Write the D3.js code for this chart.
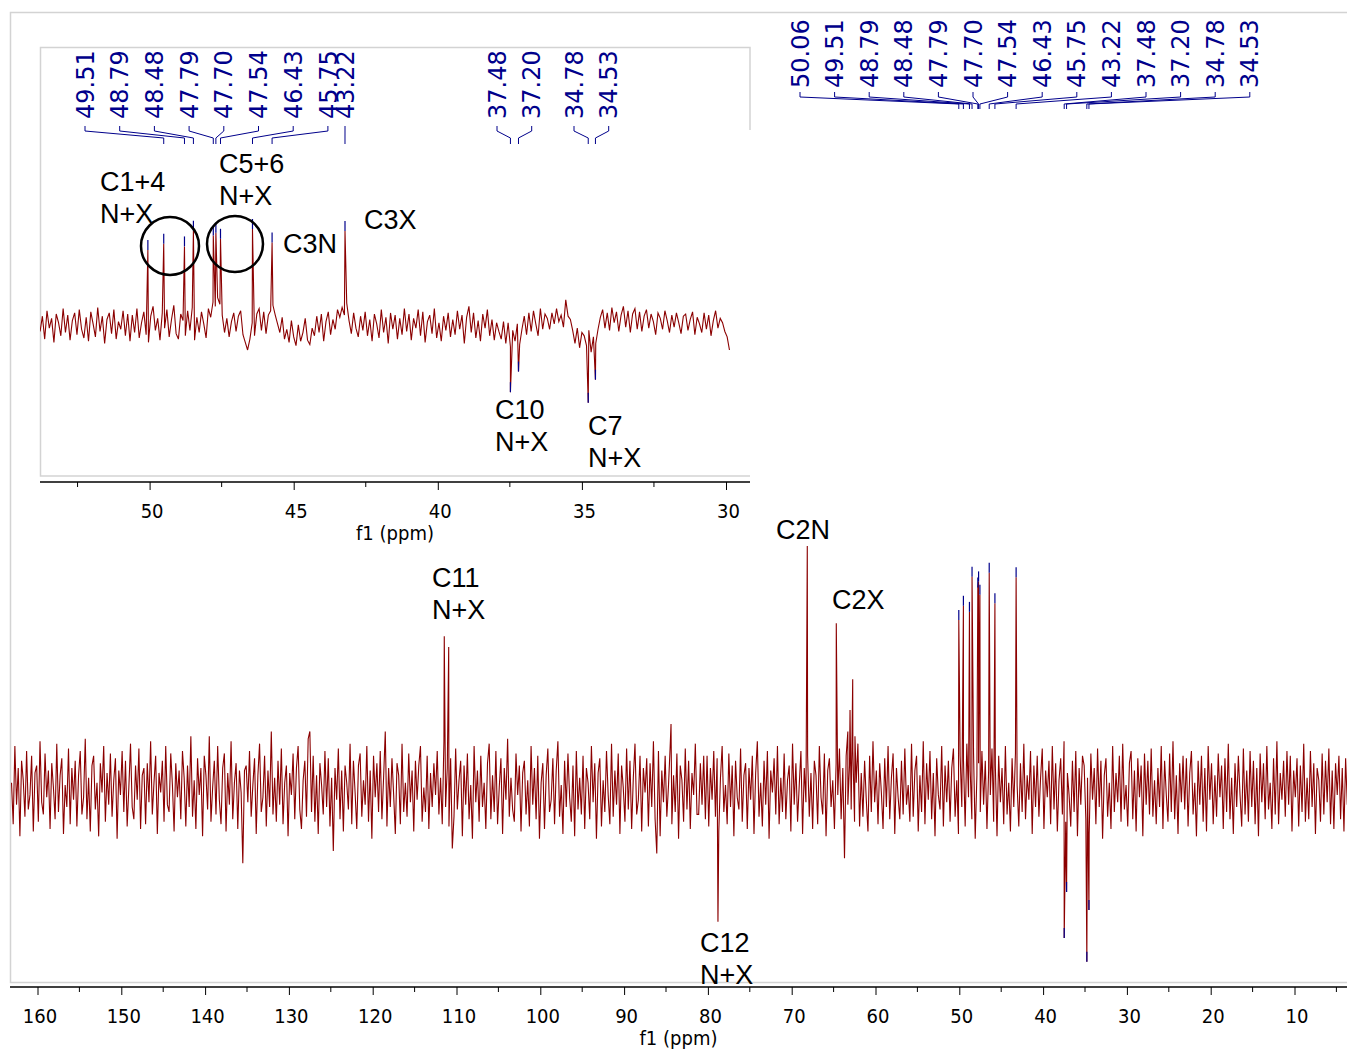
<!DOCTYPE html>
<html><head><meta charset="utf-8">
<script src="https://cdn.jsdelivr.net/npm/d3@7"></script>
<style>body{margin:0;background:#fff}svg{display:block}</style>
</head><body>
<script>
// ---------- DATA ----------
const mainNoiseStart = 163.1, mainNoiseStep = 0.2;
const mainNoise = [
3,-14,18,-6,9,-19,12,4,-11,16,-8,-2,14,-17,7,10,-13,20,-5,-10,
15,-3,8,-16,11,1,-12,19,-9,6,13,-18,2,-7,17,-14,9,-4,12,-15,
6,16,-10,-3,21,-12,5,-17,10,14,-8,3,-19,11,-1,18,-13,7,-6,15,
-11,4,13,-20,8,-2,16,-9,12,-15,1,19,-7,-12,10,-4,17,-16,6,9,
-14,11,-5,20,-10,3,14,-18,7,-1,12,-13,18,-6,-9,15,2,-17,11,-3,
8,-12,16,5,-15,10,-7,22,-11,4,-16,13,-2,9,-19,14,6,-8,22,-13,
1,12,-10,18,-4,-14,9,15,-17,7,-6,20,-12,3,11,-16,8,-1,-30,8,
10,-5,16,-11,2,13,-18,6,19,-9,-3,14,-15,8,-7,24,-10,5,-13,12,
-6,17,-14,3,10,-19,7,-2,15,-12,9,18,-8,-16,4,12,-11,21,24,-9,
14,-13,6,-18,11,2,-10,16,-7,13,-15,5,-25,9,-4,17,-12,8,-17,10,
3,-8,19,-14,12,-1,-16,10,15,-11,4,-6,18,-13,8,-20,14,-3,11,-9,
16,-12,5,24,-15,9,-7,13,-2,-18,11,6,-14,19,-9,3,-11,15,-5,8,
-17,12,-4,10,18,-13,1,-9,14,-16,7,-7,11,-2,16,-10,5,-14,20,-7,
9,-15,13,-24,-11,17,-8,4,12,-19,10,-6,15,-12,2,-20,18,-5,8,-13,
14,-7,3,-16,11,19,-12,6,-9,16,-14,1,13,-18,9,-4,21,-11,5,-8,
-13,15,-2,10,-17,7,12,-10,4,-15,18,-6,9,-12,14,-20,3,11,-16,6,
17,-9,-4,13,-14,8,20,-11,2,-18,12,-7,15,-3,-13,10,-19,16,-8,5,
-10,14,-16,9,3,-12,18,-5,11,-20,7,13,-15,4,-9,16,-2,-14,19,-11,
8,-6,15,-18,10,1,-13,17,-8,12,-16,5,19,-10,-4,14,-17,9,-1,13,
-15,11,-7,20,-12,-26,16,-19,8,-5,14,-11,2,18,-14,6,-9,15,-20,10,
4,-13,17,-8,12,-16,7,-2,19,-10,-10,11,-6,14,-12,14,-15,9,-4,16,
-11,13,-17,5,18,-9,2,-14,15,-7,10,-19,12,-3,-8,17,-13,6,11,-16,
9,-4,14,-18,7,20,-11,3,-15,12,-6,16,-20,8,-1,13,-10,18,-14,5,
-9,15,-12,4,10,-17,19,-6,11,-13,2,16,-18,9,-5,14,-11,7,-16,12,
6,-14,18,-3,-10,15,-19,8,13,-7,4,-16,11,-2,17,-12,9,-28,14,-6,
10,-8,16,-13,3,19,-15,7,-11,12,-4,-17,14,-9,20,-5,8,-14,11,-1,
-16,13,-7,18,-12,5,15,-18,9,-3,-12,12,-10,17,-6,2,-13,19,-11,8,
14,-17,6,-9,20,-14,11,-4,16,-12,7,-19,13,-2,-8,18,-15,10,-5,12,
-13,9,17,-11,4,-18,14,-7,12,-15,19,-3,8,-12,15,-20,6,11,-9,16,
-6,12,-16,8,-2,17,-13,10,-19,14,-5,9,-14,18,-10,3,-17,13,-7,15,
2,-15,11,-9,19,-12,6,-4,16,-18,10,-7,14,-11,5,17,-16,8,-3,12,
-14,18,-8,11,-17,4,13,-10,20,-13,7,-2,-15,12,-9,16,-19,9,-6,14,
10,-12,5,-18,15,-4,9,-14,17,-7,12,-20,6,13,-11,3,-16,18,-9,7,
-5,14,-13,19,-8,2,-15,11,16,-12,8,-17,13,-3,10,-19,15,-6,12,-10,
17,-11,4,-14,9,-7,18,-16,12,-2,-13,15,-9,20,-12,6,-18,11,-5,14,
-8,13,-15,7,16,-10,3,-19,12,-6,14,-13,9,-17,18,-4,11,-14,6,-11,
15,-3,10,-16,13,-9,19,-12,5,-18,11,-7,14,-2,-15,17,-10,8,-13,16,
-7,12,-14,9,-19,15,-5,11,-12,18,-8,3,-16,13,-10,20,-14,7,-4,12,
-11,16,-6,14,-17,8,-3,13,-15,10,-9,19,-13,5,-12,16,-7,11,-18,9,
4,-13,15,-10,12,-5,17,-14,8,-16,11,-2,14,-12,9,-17,13,-6,10,-15
];
const insetNoiseStart = 53.8, insetNoiseStep = 0.08;
const insetNoise = [
-5,9,-12,14,-2,7,-15,11,3,-9,16,-6,10,-13,5,12,-8,15,-3,-11,
8,-14,13,2,-10,17,-5,9,-16,6,12,-7,15,-12,4,-3,14,-9,11,-14,
10,-6,16,-11,3,13,-8,-15,9,18,-4,7,-13,12,-2,15,-10,6,19,-7,
-12,11,5,-9,14,-4,17,-13,8,-6,13,2,-11,16,8,22,18,26,20,10,
-6,7,-10,4,12,-5,9,14,-8,-15,-22,-12,3,-9,11,16,-4,13,-7,10,
14,19,10,2,-6,8,-12,-3,-15,5,-10,-18,1,-14,-6,7,-13,-17,-2,-9,
9,-6,11,-14,4,13,-8,6,-3,15,8,17,10,21,5,-7,12,-2,-10,9,
-4,13,-9,6,-14,11,2,-11,15,-6,8,-16,12,-3,10,-12,7,-8,16,-5,
11,-13,7,-2,15,-9,13,-15,4,10,-7,16,-11,3,-14,9,-4,12,-10,6,
-8,14,-3,10,-16,8,18,-6,12,-11,5,-14,11,-2,15,-9,6,-13,3,-5,
-12,4,-16,3,-19,-4,-14,2,-17,-3,9,-8,12,-5,14,2,-9,16,-3,11,
7,-3,12,2,16,4,10,-1,24,9,6,-4,-16,-2,-20,-6,-9,-18,-4,-24,
-10,-16,-3,8,15,-2,12,-4,17,3,13,-5,10,18,-1,14,-6,11,16,-3,
13,-5,9,15,-2,11,4,-8,12,7,-3,14,5,-6,10,-1,12,3,-7,9,
11,-4,6,13,-8,8,2,-6,12,-3,10,-9,5,14,-2,7,3,-5,-10,-22
];
// labelled peaks (ppm, intensity; C2N = 100)
const peakPpm = [50.06,49.51,48.79,48.48,47.79,47.70,47.54,46.43,45.75,43.22,37.48,37.20,34.78,34.53];
const peakInt = [69.7,75.5,73,87.4,83,85.5,80,89,76.5,87.2,-60.7,-41.8,-70.4,-49.2];
const peakLabels = ["50.06","49.51","48.79","48.48","47.79","47.70","47.54","46.43","45.75","43.22","37.48","37.20","34.78","34.53"];
// other peaks (no marks)
const otherPpm = [111.46,110.93,84.4,78.8,68.14,64.68,63.3,63.04,62.72,62.45];
const otherInt = [63,58.6,27,-54,100,68.3,24,32.8,45.4,22];
const mainTicks = [160,150,140,130,120,110,100,90,80,70,60,50,40,30,20,10];
const mainMinor = [155,145,135,125,115,105,95,85,75,65,55,45,35,25,15,5];
const insetTicks = [50,45,40,35,30];
const insetMinor = [52.5,47.5,42.5,37.5,32.5];
const mainNotes = [["C11","N+X"],["C2N"],["C2X"],["C12","N+X"]];
const insetNotes = [["C1+4","N+X"],["C5+6","N+X"],["C3N"],["C3X"],["C10","N+X"],["C7","N+X"]];
const axisTitle = "f1 (ppm)";

// ---------- LAYOUT ----------
const W = 1347, H = 1052;
const RED = "#8b0000", NAVY = "#00008b", GRAY = "#d3d3d3";
const svg = d3.select("body").append("svg").attr("width", W).attr("height", H);

function series(start, step, noise, lo, hi, withOther) {
  const pts = noise.map((v, i) => ({ppm: start - i * step, v}));
  peakPpm.forEach((p, i) => { if (p <= hi && p >= lo) pts.push({ppm: p, v: peakInt[i]}); });
  if (withOther) otherPpm.forEach((p, i) => pts.push({ppm: p, v: otherInt[i]}));
  return pts.sort((a, b) => b.ppm - a.ppm);
}

const defs = svg.append("defs");
defs.append("clipPath").attr("id", "clipMain").append("rect").attr("x", 10).attr("y", 0).attr("width", W - 10).attr("height", H);
defs.append("clipPath").attr("id", "clipInset").append("rect").attr("x", 40).attr("y", 0).attr("width", 710).attr("height", H);

// ---- main frame ----
svg.append("path").attr("d", `M${W},12.5H10.5V982.5H${W}`).attr("fill", "none").attr("stroke", GRAY).attr("stroke-width", 1.5);

// ---- main plot ----
const xM = d3.scaleLinear().domain([160, 10]).range([37.5, 1294.5]);
const yM = d3.scaleLinear().domain([0, 100]).range([790, 546]);
const mainData = series(mainNoiseStart, mainNoiseStep, mainNoise, -1e9, 1e9, true);
svg.append("path").datum(mainData).attr("clip-path", "url(#clipMain)")
  .attr("d", d3.line().x(d => xM(d.ppm)).y(d => yM(d.v)))
  .attr("fill", "none").attr("stroke", RED).attr("stroke-width", 1.1);

function marks(g, x, y) {
  g.selectAll(null).data(peakPpm).enter().append("line")
    .attr("x1", d => x(d)).attr("x2", d => x(d))
    .attr("y1", (d, i) => y(peakInt[i]) - 10).attr("y2", (d, i) => y(peakInt[i]))
    .attr("stroke", NAVY).attr("stroke-width", 1.2);
}
marks(svg.append("g"), xM, yM);

function axis(x, yAxis, x0, x1, ticks, minor, majorLen, minorLen) {
  const g = svg.append("g").attr("transform", `translate(0,${yAxis})`);
  g.append("line").attr("x1", x0).attr("x2", x1).attr("stroke", "#000").attr("stroke-width", 1.5);
  const ax = d3.axisBottom(x).tickValues(ticks).tickSize(majorLen).tickSizeOuter(0).tickPadding(14).tickFormat(d3.format("d"));
  const ga = g.append("g").call(ax);
  ga.select(".domain").remove();
  ga.selectAll(".tick line").attr("stroke", "#000").attr("stroke-width", 1);
  ga.selectAll(".tick text").attr("font-family", "'DejaVu Sans Condensed','DejaVu Sans',sans-serif")
    .attr("font-stretch", "condensed").attr("font-size", 20).attr("fill", "#000").attr("dx", 2);
  g.selectAll(null).data(minor).enter().append("line")
    .attr("x1", d => x(d)).attr("x2", d => x(d)).attr("y1", 0).attr("y2", minorLen)
    .attr("stroke", "#000").attr("stroke-width", 1);
  g.append("text").attr("x", (x0 + x1) / 2).attr("y", 58).attr("text-anchor", "middle")
    .attr("font-family", "'DejaVu Sans Condensed','DejaVu Sans',sans-serif").attr("font-stretch", "condensed")
    .attr("font-size", 20).text(axisTitle);
}
axis(xM, 987, 10, W, mainTicks, mainMinor, 8, 5);

// top multiplet labels
function labelsAndBrackets(groups, xs, yText, yT1, yT2, yD, yB) {
  const g = svg.append("g");
  groups.forEach(gr => {
    gr.idx.forEach((pi, k) => {
      const lx = gr.x0 + k * gr.pitch;
      const px = xs(peakPpm[pi]);
      g.append("text").attr("transform", `translate(${lx},${yText}) rotate(-90)`)
        .attr("dy", "0.36em").attr("font-family", "'DejaVu Sans',Verdana,sans-serif")
        .attr("font-size", 24).attr("fill", NAVY).text(peakLabels[pi]);
      g.append("path").attr("d", `M${lx},${yT1}V${yT2}L${px},${yD}V${yB}`)
        .attr("fill", "none").attr("stroke", NAVY).attr("stroke-width", 1);
    });
  });
}
labelsAndBrackets([{idx: d3.range(0, 14), x0: 800, pitch: 34.6}], xM, 88, 92, 97, 104, 109);

function notes(list, pos) {
  list.forEach((lines, i) => {
    const t = svg.append("text").attr("font-family", "'Liberation Sans',Arial,sans-serif")
      .attr("font-size", 27).attr("fill", "#000");
    lines.forEach((s, j) => t.append("tspan").attr("x", pos[i][0]).attr("y", pos[i][1] + j * 32).text(s));
  });
}
notes(mainNotes, [[432, 587], [776, 539], [832, 609], [700, 952]]);

// ---- inset ----
svg.append("rect").attr("x", 40.5).attr("y", 47.5).attr("width", 709.5).attr("height", 428.5).attr("fill", "#fff");
svg.append("path").attr("d", "M750,130V47.5H40.5V476H750").attr("fill", "none").attr("stroke", GRAY).attr("stroke-width", 1.5);
const xI = d3.scaleLinear().domain([50, 30]).range([149.6, 726]);
const yI = d3.scaleLinear().domain([0, 100]).range([326, 217]);
const insetData = series(insetNoiseStart, insetNoiseStep, insetNoise, 29, 54, false);
svg.append("path").datum(insetData).attr("clip-path", "url(#clipInset)")
  .attr("d", d3.line().x(d => xI(d.ppm)).y(d => yI(d.v)))
  .attr("fill", "none").attr("stroke", RED).attr("stroke-width", 1.1);
marks(svg.append("g"), xI, yI);
axis(xI, 482, 40, 750, insetTicks, insetMinor, 8, 5);
labelsAndBrackets([
  {idx: d3.range(1, 9), x0: 85, pitch: 34.7},
  {idx: [9], x0: 345, pitch: 0},
  {idx: [10, 11], x0: 497, pitch: 34.7},
  {idx: [12, 13], x0: 574, pitch: 34.7}
], xI, 119, 126, 131, 138, 144);
notes(insetNotes, [[100, 191], [219, 173], [283, 253], [364, 229], [495, 419], [588, 435]]);
svg.append("circle").attr("cx", 170).attr("cy", 246).attr("r", 29).attr("fill", "none").attr("stroke", "#000").attr("stroke-width", 2.5);
svg.append("circle").attr("cx", 235).attr("cy", 244).attr("r", 28).attr("fill", "none").attr("stroke", "#000").attr("stroke-width", 2.5);
</script>
</body></html>
